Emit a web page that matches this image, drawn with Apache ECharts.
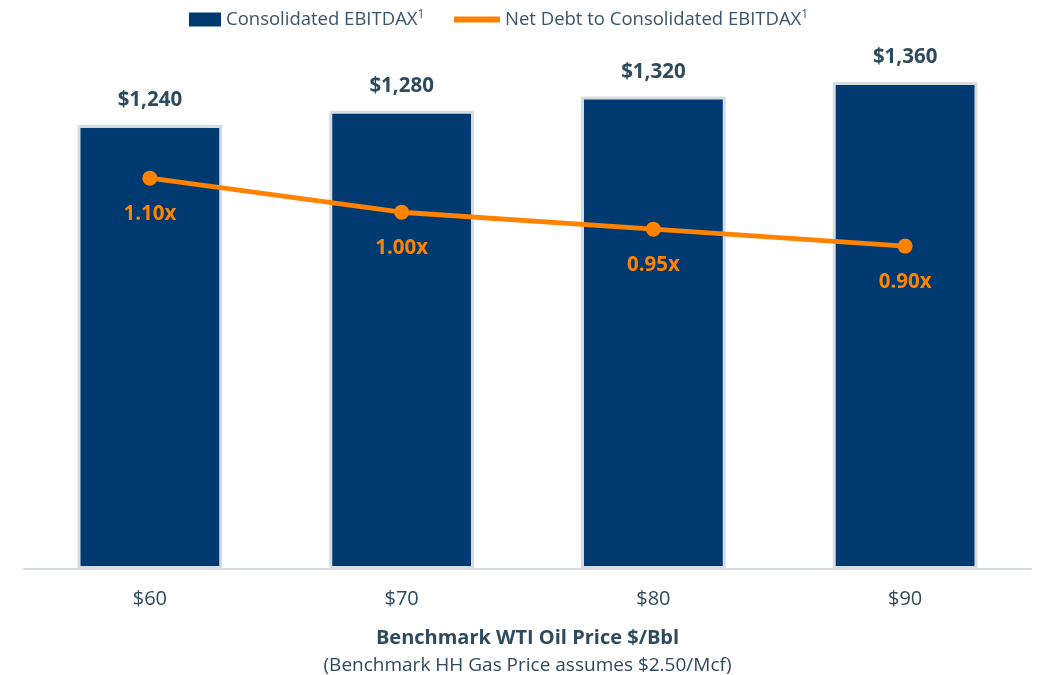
<!DOCTYPE html>
<html>
<head>
<meta charset="utf-8">
<script src="https://cdn.jsdelivr.net/npm/echarts@6/dist/echarts.min.js"></script>
<style>
  html, body { margin: 0; padding: 0; background: #ffffff; }
  #chart { width: 1041px; height: 675px; }
</style>
</head>
<body>
<div id="chart"></div>
<script>
// Oil price scenarios on the category axis
const categories = ['$60', '$70', '$80', '$90'];
// Consolidated EBITDAX ($MM) per scenario
const ebitdax = [1240, 1280, 1320, 1360];
// Net debt to consolidated EBITDAX leverage (x)
const leverage = [1.10, 1.00, 0.95, 0.90];

const barName = 'Consolidated EBITDAX';
const lineName = 'Net Debt to Consolidated EBITDAX';

const FONT = '"Open Sans", sans-serif';
const NAVY = '#003a70';
const ORANGE = '#ff8200';
const SLATE = '#2d4a5e';
const RULE = '#d5dde3';

const chart = echarts.init(document.getElementById('chart'), null, { renderer: 'canvas' });

const legendRich = {
  t: { fontFamily: FONT, fontSize: 18.5, color: '#3a5468', lineHeight: 24 },
  s: { fontFamily: FONT, fontSize: 12, color: '#3a5468', lineHeight: 24, padding: [0, 0, 9, 0] }
};

chart.setOption({
  animation: false,
  textStyle: { fontFamily: FONT },
  legend: [
    {
      data: [barName],
      left: 184, top: 4,
      itemWidth: 32, itemHeight: 14, itemGap: 10,
      icon: 'rect',
      itemStyle: { borderWidth: 0 },
      formatter: n => '{t|' + n + '}{s|1}',
      textStyle: { rich: legendRich }
    },
    {
      data: [lineName],
      left: 449, top: 4,
      itemWidth: 46, itemHeight: 6, itemGap: 12,
      icon: 'rect',
      itemStyle: { borderWidth: 0 },
      formatter: n => '{t|' + n + '}{s|1}',
      textStyle: { rich: legendRich }
    }
  ],
  grid: { left: 24, right: 10, top: 32, bottom: 106, containLabel: false, outerBoundsMode: 'none' },
  xAxis: {
    type: 'category',
    data: categories,
    axisTick: { show: false },
    axisLine: { lineStyle: { color: RULE, width: 2 } },
    axisLabel: { color: SLATE, fontFamily: FONT, fontSize: 20, margin: 20 },
    name: '{a|Benchmark WTI Oil Price $/Bbl}\n{b|(Benchmark HH Gas Price assumes $2.50/Mcf)}',
    nameLocation: 'middle',
    nameGap: 56,
    nameTextStyle: {
      rich: {
        a: { fontFamily: FONT, fontSize: 20, fontWeight: 'bold', color: SLATE, lineHeight: 27, align: 'center' },
        b: { fontFamily: FONT, fontSize: 19, color: SLATE, lineHeight: 27, align: 'center' }
      }
    }
  },
  yAxis: [
    { type: 'value', min: 0, max: 1500, show: false, splitLine: { show: false } },
    { type: 'value', min: -0.05, max: 1.53, show: false, splitLine: { show: false } }
  ],
  series: [
    {
      name: barName,
      type: 'bar',
      data: ebitdax,
      barWidth: '57.5%',
      itemStyle: { color: NAVY, borderColor: RULE, borderWidth: 3 },
      label: {
        show: true,
        position: 'top',
        distance: 14,
        fontFamily: FONT,
        fontSize: 20.5,
        fontWeight: 'bold',
        color: SLATE,
        formatter: p => '$' + p.value.toLocaleString('en-US')
      },
      z: 2
    },
    {
      name: lineName,
      type: 'line',
      yAxisIndex: 1,
      data: leverage,
      symbol: 'circle',
      symbolSize: 15,
      lineStyle: { color: ORANGE, width: 5 },
      itemStyle: { color: ORANGE },
      label: {
        show: true,
        position: 'bottom',
        distance: 18,
        fontFamily: FONT,
        fontSize: 20.5,
        fontWeight: 'bold',
        color: ORANGE,
        formatter: p => p.value.toFixed(2) + 'x'
      },
      z: 5
    }
  ]
});
</script>
</body>
</html>
